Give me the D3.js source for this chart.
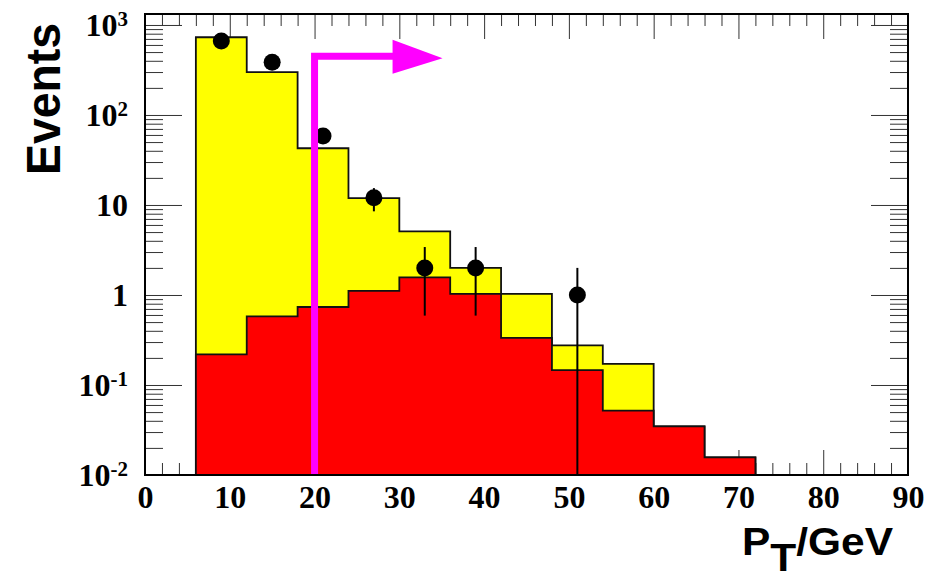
<!DOCTYPE html>
<html>
<head>
<meta charset="utf-8">
<script src="https://cdn.jsdelivr.net/npm/d3@7"></script>
<style>
    body { margin: 0; background: #fff; }
    .axis text { font-family: "Liberation Serif", "Times New Roman", serif; font-weight: bold; font-size: 32px; fill: #000; }
    .axis line { stroke: #333; stroke-width: 1; }
    .axis .domain { display: none; }
    .axis-title { font-family: "Liberation Sans", Arial, sans-serif; font-weight: bold; fill: #000; }
</style>
</head>
<body>
<svg id="chart"></svg>
<script>
// histogram bins (GeV)
const binLow  = [6, 12, 18, 24, 30, 36, 42, 48, 54, 60, 66];
const binHigh = [12, 18, 24, 30, 36, 42, 48, 54, 60, 66, 72];

// stacked MC: total (yellow) and signal part (red)
const totalMC  = [730, 300, 42.7, 11.9, 5.1, 2.0, 1.03, 0.276, 0.172, 0.0347, 0.0157];
const signalMC = [0.219, 0.58, 0.735, 1.11, 1.57, 1.03, 0.333, 0.146, 0.052, 0.0347, 0.0157];

// data points with error bars
const dataPt = [9, 15, 21, 27, 33, 39, 51];
const dataN  = [664, 385, 58.4, 12, 2, 2, 1];
const dataLo = [638, 365, 50.8, 8.5, 0.59, 0.59, 0];
const dataHi = [690, 405, 66, 15.4, 3.41, 3.41, 2];

// axis ticks
const xTicks = [0, 10, 20, 30, 40, 50, 60, 70, 80, 90];
const yTicks = [0.01, 0.1, 1, 10, 100, 1000];
const yTickBase = ["10", "10", "1", "10", "10", "10"];
const yTickExp  = ["-2", "-1", "", "", "2", "3"];

// pT cut arrow
const cutValue = 20;
const arrowLevel = 450;
const arrowBase = 29.2;
const arrowTip = 35.1;

const config = {
    containerWidth: 936,
    containerHeight: 578,
    margin: { top: 14, right: 28, bottom: 103, left: 145 }
};

const width = config.containerWidth - config.margin.left - config.margin.right;
const height = config.containerHeight - config.margin.top - config.margin.bottom;

const svg = d3.select("#chart")
    .attr("width", config.containerWidth)
    .attr("height", config.containerHeight);

svg.append("rect")
    .attr("width", config.containerWidth)
    .attr("height", config.containerHeight)
    .attr("fill", "#fff");

const chart = svg.append("g")
    .attr("transform", `translate(${config.margin.left},${config.margin.top})`);

const xScale = d3.scaleLinear().domain([0, 90]).range([0, width]);
const yScale = d3.scaleLog().domain([0.01, 1324]).range([height, 0]);
const yMin = yScale.domain()[0];

// minor ticks
const xMinor = xScale.ticks(45).filter(d => d % 10 !== 0);
const yMinor = yScale.ticks().filter(d => Math.abs(Math.log10(d) - Math.round(Math.log10(d))) > 1e-6);

// x axes (bottom with labels, top mirrored)
chart.append("g")
    .attr("class", "axis x-axis")
    .attr("transform", `translate(0,${height})`)
    .call(d3.axisBottom(xScale).tickValues(xTicks).tickSizeInner(-25).tickSizeOuter(0).tickPadding(10));

chart.append("g")
    .attr("class", "axis")
    .attr("transform", `translate(0,${height})`)
    .call(d3.axisBottom(xScale).tickValues(xMinor).tickSizeInner(-12).tickSizeOuter(0).tickFormat(""));

chart.append("g")
    .attr("class", "axis")
    .call(d3.axisTop(xScale).tickValues(xTicks).tickSizeInner(-25).tickSizeOuter(0).tickFormat(""));

chart.append("g")
    .attr("class", "axis")
    .call(d3.axisTop(xScale).tickValues(xMinor).tickSizeInner(-12).tickSizeOuter(0).tickFormat(""));

// y axes (left with labels, right mirrored)
const yAxisG = chart.append("g")
    .attr("class", "axis y-axis")
    .call(d3.axisLeft(yScale).tickValues(yTicks).tickSizeInner(-37).tickSizeOuter(0).tickPadding(17).tickFormat(""));

yAxisG.selectAll(".tick text").each(function(d, i) {
    const t = d3.select(this);
    t.append("tspan").text(yTickBase[i]);
    if (yTickExp[i]) {
        t.append("tspan")
            .attr("dy", "-0.45em")
            .style("font-size", "21px")
            .text(yTickExp[i]);
    }
});

chart.append("g")
    .attr("class", "axis")
    .call(d3.axisLeft(yScale).tickValues(yMinor).tickSizeInner(-18).tickSizeOuter(0).tickFormat(""));

chart.append("g")
    .attr("class", "axis")
    .attr("transform", `translate(${width},0)`)
    .call(d3.axisRight(yScale).tickValues(yTicks).tickSizeInner(-37).tickSizeOuter(0).tickFormat(""));

chart.append("g")
    .attr("class", "axis")
    .attr("transform", `translate(${width},0)`)
    .call(d3.axisRight(yScale).tickValues(yMinor).tickSizeInner(-18).tickSizeOuter(0).tickFormat(""));

// stepped histogram areas
function histPoints(values) {
    const pts = binLow.map((x0, i) => ({ x: x0, v: values[i] }));
    pts.push({ x: binHigh[binHigh.length - 1], v: values[values.length - 1] });
    return pts;
}

const histArea = d3.area()
    .x(d => xScale(d.x))
    .y0(yScale(yMin))
    .y1(d => yScale(Math.max(d.v, yMin)))
    .curve(d3.curveStepAfter);

chart.append("path")
    .datum(histPoints(totalMC))
    .attr("d", histArea)
    .attr("fill", "#ffff00")
    .attr("stroke", "#111")
    .attr("stroke-width", 1.8);

chart.append("path")
    .datum(histPoints(signalMC))
    .attr("d", histArea)
    .attr("fill", "#ff0000")
    .attr("stroke", "#111")
    .attr("stroke-width", 1.8);

// data error bars and markers
chart.selectAll(".err")
    .data(dataPt)
    .join("line")
    .attr("class", "err")
    .attr("x1", d => xScale(d))
    .attr("x2", d => xScale(d))
    .attr("y1", (d, i) => yScale(Math.max(dataLo[i], yMin)))
    .attr("y2", (d, i) => yScale(dataHi[i]))
    .attr("stroke", "#000")
    .attr("stroke-width", 2);

chart.selectAll(".dot")
    .data(dataPt)
    .join("circle")
    .attr("class", "dot")
    .attr("cx", d => xScale(d))
    .attr("cy", (d, i) => yScale(dataN[i]))
    .attr("r", 8.5)
    .attr("fill", "#000");

// cut line + arrow
chart.append("path")
    .attr("d", `M${xScale(cutValue)},${height} V${yScale(arrowLevel)} H${xScale(arrowBase) + 2}`)
    .attr("fill", "none")
    .attr("stroke", "#ff00ff")
    .attr("stroke-width", 7);

chart.append("path")
    .attr("d", `M${xScale(arrowBase)},${yScale(arrowLevel) - 16.5} L${xScale(arrowTip)},${yScale(arrowLevel) + 2} L${xScale(arrowBase)},${yScale(arrowLevel) + 17.5} Z`)
    .attr("fill", "#ff00ff");

// frame
chart.append("rect")
    .attr("width", width)
    .attr("height", height)
    .attr("fill", "none")
    .attr("stroke", "#000")
    .attr("stroke-width", 2);

// axis titles
svg.append("text")
    .attr("class", "axis-title")
    .attr("transform", "translate(60,99) rotate(-90)")
    .attr("text-anchor", "middle")
    .attr("font-size", "48px")
    .attr("textLength", 152)
    .attr("lengthAdjust", "spacingAndGlyphs")
    .text("Events");

const xTitle = svg.append("text")
    .attr("class", "axis-title")
    .attr("x", 742)
    .attr("y", 555)
    .attr("font-size", "38px")
    .attr("textLength", 151)
    .attr("lengthAdjust", "spacingAndGlyphs");
xTitle.append("tspan").text("P");
xTitle.append("tspan").attr("dy", 16).text("T");
xTitle.append("tspan").attr("dy", -16).text("/GeV");
</script>
</body>
</html>
